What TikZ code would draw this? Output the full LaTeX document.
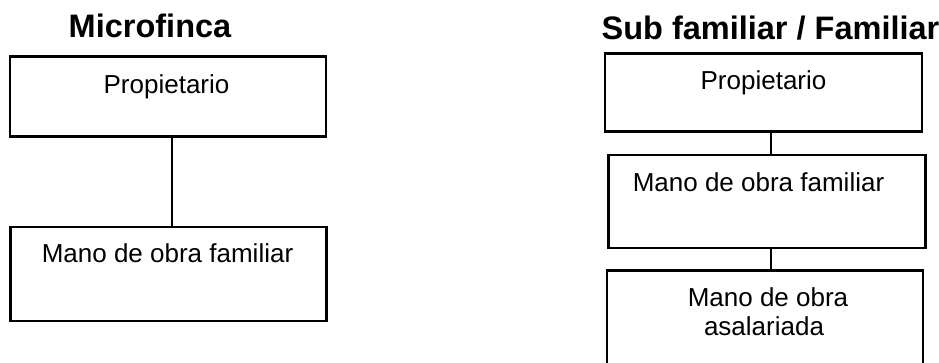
\documentclass[tikz,border=0pt]{standalone}
\usepackage{fontspec}
\setmainfont{Liberation Sans}
\begin{document}
\begin{tikzpicture}[x=1pt,y=-1pt,
  boxnode/.style={draw=black,line width=2.2pt,fill=white,inner sep=0pt,outer sep=0pt},
  txt/.style={inner sep=0pt,anchor=base,font=\fontsize{26}{28.5}\selectfont},
  ttl/.style={inner sep=0pt,anchor=base,font=\fontsize{32.5}{35}\selectfont\bfseries},
  link/.style={line width=2.2pt}]
\path[use as bounding box,fill=white] (0,0) rectangle (939,362);
\clip (0,0) rectangle (939,362);
% titles
\node[ttl] (t1) at (150,37) {Microfinca};
\node[ttl] (t2) at (770.5,39) {Sub familiar / Familiar};
% left column
\node[boxnode,minimum width=316pt,minimum height=80pt] (lp) at (168,96.5) {};
\node[boxnode,minimum width=316pt,minimum height=94pt] (lm) at (168.5,274) {};
\draw[link] (lp.south -| 172,0) -- (lm.north -| 172,0);
\node[txt] (lpt) at (166.5,93) {Propietario};
\node[txt] (lmt) at (167.5,262) {Mano de obra familiar};
% right column
\node[boxnode,minimum width=317pt,minimum height=78pt] (rp) at (763.5,92.5) {};
\node[boxnode,minimum width=317pt,minimum height=93pt] (rm) at (767,201.5) {};
\node[boxnode,minimum width=316pt,minimum height=140pt] (ra) at (765,340.5) {};
\draw[link] (rp.south -| 771,0) -- (rm.north -| 771,0);
\draw[link] (rm.south -| 771,0) -- (ra.north -| 771,0);
\node[txt] (rpt) at (763.5,89) {Propietario};
\node[txt] (rmt) at (758.5,191) {Mano de obra familiar};
\node[txt] (rat1) at (768,306.5) {Mano de obra};
\node[txt] (rat2) at (764,335) {asalariada};
\end{tikzpicture}
\end{document}
